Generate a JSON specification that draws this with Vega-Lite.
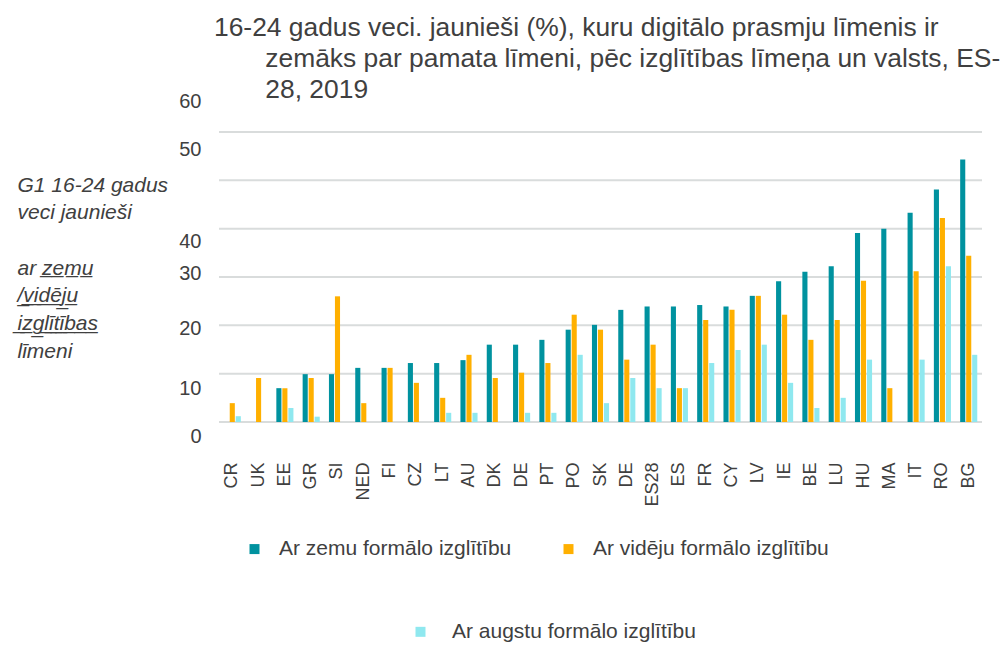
{
  "$schema": "https://vega.github.io/schema/vega-lite/v6.json",
  "autosize": {"type": "none"},
  "padding": {"left": 219, "top": 93.33, "right": 26, "bottom": 205.67},
  "width": 763,
  "height": 348,
  "background": "white",
  "config": {"view": {"stroke": null}, "font": "Liberation Sans"},
  "title": {
    "text": [
      "16-24 gadus veci. jaunieši (%), kuru digitālo prasmju līmenis ir",
      "\u200b\u00a0\u00a0\u00a0\u00a0\u00a0\u00a0\u00a0zemāks par pamata līmeni, pēc izglītības līmeņa un valsts, ES-",
      "\u200b\u00a0\u00a0\u00a0\u00a0\u00a0\u00a0\u00a028, 2019"
    ],
    "anchor": "start",
    "frame": "group",
    "fontSize": 26.4,
    "fontWeight": "normal",
    "color": "#404040",
    "lineHeight": 31,
    "offset": 0,
    "dx": -5,
    "dy": 12
  },
  "layer": [
    {
      "data": {"values": [{"g": 0}, {"g": 10}, {"g": 20}, {"g": 30}, {"g": 40}, {"g": 50}, {"g": 60}]},
      "mark": {"type": "rule", "color": "#d9dcdc", "strokeWidth": 2},
      "encoding": {"y": {"field": "g", "type": "quantitative"}}
    },
    {
      "data": {"values": [
        {"c": "CR", "low": 0, "mid": 3.9, "high": 1.2},
        {"c": "UK", "low": 0, "mid": 9.1, "high": 0},
        {"c": "EE", "low": 7.0, "mid": 7.0, "high": 2.9},
        {"c": "GR", "low": 9.9, "mid": 9.1, "high": 1.1},
        {"c": "SI", "low": 9.9, "mid": 26.0, "high": 0},
        {"c": "NED", "low": 11.2, "mid": 3.9, "high": 0},
        {"c": "FI", "low": 11.2, "mid": 11.2, "high": 0},
        {"c": "CZ", "low": 12.2, "mid": 8.1, "high": 0},
        {"c": "LT", "low": 12.2, "mid": 5.0, "high": 1.9},
        {"c": "AU", "low": 12.8, "mid": 13.9, "high": 1.9},
        {"c": "DK", "low": 16.0, "mid": 9.1, "high": 0},
        {"c": "DE", "low": 16.0, "mid": 10.2, "high": 1.9},
        {"c": "PT", "low": 17.0, "mid": 12.2, "high": 1.9},
        {"c": "PO", "low": 19.1, "mid": 22.2, "high": 13.9},
        {"c": "SK", "low": 20.1, "mid": 19.1, "high": 3.9},
        {"c": "DE#2", "low": 23.2, "mid": 12.9, "high": 9.1},
        {"c": "ES28", "low": 23.9, "mid": 16.0, "high": 7.0},
        {"c": "ES", "low": 23.9, "mid": 7.0, "high": 7.0},
        {"c": "FR", "low": 24.2, "mid": 21.1, "high": 12.2},
        {"c": "CY", "low": 23.9, "mid": 23.2, "high": 14.9},
        {"c": "LV", "low": 26.1, "mid": 26.1, "high": 16.0},
        {"c": "IE", "low": 29.1, "mid": 22.2, "high": 8.1},
        {"c": "BE", "low": 31.1, "mid": 17.0, "high": 2.9},
        {"c": "LU", "low": 32.2, "mid": 21.1, "high": 5.0},
        {"c": "HU", "low": 39.1, "mid": 29.2, "high": 12.9},
        {"c": "MA", "low": 40.0, "mid": 7.0, "high": 0},
        {"c": "IT", "low": 43.3, "mid": 31.2, "high": 12.9},
        {"c": "RO", "low": 48.1, "mid": 42.2, "high": 32.2},
        {"c": "BG", "low": 54.3, "mid": 34.4, "high": 13.9}
      ]},
      "transform": [
        {"fold": ["low", "mid", "high"], "as": ["key", "v"]},
        {"filter": "datum.v > 0"}
      ],
      "layer": [
        {
          "transform": [{"filter": "datum.key != 'high'"}],
          "mark": {"type": "bar"},
          "encoding": {
            "x": {
              "field": "c", "type": "nominal",
              "scale": {"domain": ["CR", "UK", "EE", "GR", "SI", "NED", "FI", "CZ", "LT", "AU", "DK", "DE", "PT", "PO", "SK", "DE#2", "ES28", "ES", "FR", "CY", "LV", "IE", "BE", "LU", "HU", "MA", "IT", "RO", "BG"], "paddingInner": 0.35, "paddingOuter": 0.18},
              "axis": {
                "title": null, "labelAngle": 270, "labelFontSize": 18, "labelColor": "#404040",
                "labelPadding": 20.7, "ticks": false, "domain": false,
                "labelExpr": "split(datum.label, '#')[0]"
              }
            },
            "xOffset": {"field": "key", "type": "nominal", "scale": {"domain": ["low", "mid", "high"], "paddingInner": 0.15}},
            "y": {
              "field": "v", "type": "quantitative", "stack": null,
              "scale": {"domain": [-4, 68], "nice": false, "zero": false},
              "axis": {
                "values": [66.3, 56.3, 37.3, 30.8, 19.4, 7.0, -3.0],
                "labelExpr": "datum.value > 60 ? '60' : datum.value > 50 ? '50' : datum.value > 35 ? '40' : datum.value > 25 ? '30' : datum.value > 15 ? '20' : datum.value > 5 ? '10' : '0'",
                "grid": false, "ticks": false, "domain": false,
                "labelFontSize": 20, "labelColor": "#404040", "labelPadding": 18,
                "labelOverlap": false, "labelFlush": false,
                "title": ["G1 16-24 gadus", "veci jaunieši", "\u200b\u00a0\u00a0", "ar z\u0332e\u0332m\u0332u\u0332", "/\u0332v\u0332i\u0332d\u0332ē\u0332j\u0332u\u0332", "i\u0332z\u0332g\u0332l\u0332ī\u0332t\u0332ī\u0332b\u0332a\u0332s\u0332", "līmeni"],
                "titleAngle": 0, "titleAlign": "left", "titleBaseline": "top",
                "titleX": -202, "titleY": 80.7,
                "titleFontSize": 21, "titleFontStyle": "italic", "titleFontWeight": "normal",
                "titleColor": "#404040", "titleLineHeight": 27.7
              }
            },
            "color": {
              "field": "key", "type": "nominal",
              "scale": {"domain": ["low", "mid"], "range": ["#00929f", "#ffb000"]},
              "legend": {
                "title": null, "orient": "none", "legendX": 25, "legendY": 445,
                "direction": "horizontal", "columnPadding": 46,
                "symbolType": "square", "symbolSize": 100, "symbolStrokeWidth": 0,
                "labelFontSize": 21, "labelColor": "#404040", "labelOffset": 14, "labelLimit": 400,
                "padding": 0,
                "labelExpr": "datum.label == 'low' ? 'Ar zemu formālo izglītību' : 'Ar vidēju formālo izglītību'"
              }
            }
          }
        },
        {
          "transform": [{"filter": "datum.key == 'high'"}],
          "mark": {"type": "bar"},
          "encoding": {
            "x": {"field": "c", "type": "nominal"},
            "xOffset": {"field": "key", "type": "nominal"},
            "y": {"field": "v", "type": "quantitative", "stack": null},
            "fill": {
              "field": "key", "type": "nominal",
              "scale": {"domain": ["high"], "range": ["#8fe8ef"]},
              "legend": {
                "title": null, "orient": "none", "legendX": 191, "legendY": 528,
                "symbolType": "square", "symbolSize": 100, "symbolStrokeWidth": 0,
                "labelFontSize": 21, "labelColor": "#404040", "labelOffset": 21, "labelLimit": 400,
                "padding": 0,
                "labelExpr": "'Ar augstu formālo izglītību'"
              }
            }
          }
        }
      ]
    }
  ]
}
